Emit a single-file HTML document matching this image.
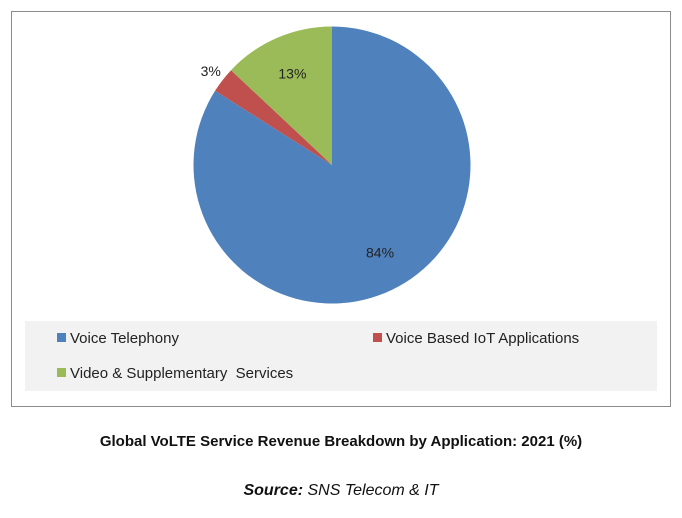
<!DOCTYPE html>
<html><head><meta charset="utf-8"><style>
body{margin:0;background:#fff;width:682px;height:513px;overflow:hidden;font-family:"Liberation Sans",sans-serif}
</style></head><body>
<svg width="682" height="513">
<rect x="11.5" y="11.5" width="659" height="395" fill="#fff" stroke="#8c8c8c"/>
<g id="pie"></g>
<rect x="25" y="321" width="632" height="70" fill="#f2f2f2"/>
<g><rect x="57" y="333" width="9" height="9" fill="#4f81bd"/><text x="70" y="343" font-size="15" fill="#222">Voice Telephony</text></g>
<g><rect x="373" y="333" width="9" height="9" fill="#c0504d"/><text x="386" y="343" font-size="15" fill="#222">Voice Based IoT Applications</text></g>
<g><rect x="57" y="368" width="9" height="9" fill="#9bbb59"/><text x="70" y="378" font-size="15" fill="#222" xml:space="preserve">Video &amp; Supplementary  Services</text></g>
<text x="341" y="446" text-anchor="middle" font-size="15" font-weight="bold" fill="#111">Global VoLTE Service Revenue Breakdown by Application: 2021 (%)</text>
<text x="341" y="495" text-anchor="middle" font-size="16" font-style="italic" fill="#111"><tspan font-weight="bold">Source:</tspan> SNS Telecom &amp; IT</text>
</svg>
<script>
const categories=["Voice Telephony","Voice Based IoT Applications","Video & Supplementary Services"];
const values=[84,3,13];
const labels=["84%","3%","13%"];
const colors=["#4f81bd","#c0504d","#9bbb59"];
const cx=332,cy=165,r=138.5;
const g=document.getElementById('pie');
const ns="http://www.w3.org/2000/svg";
const total=values.reduce((a,b)=>a+b,0);
let a0=0;
values.forEach((v,i)=>{
  const a1=a0+v/total*2*Math.PI;
  const p=a=>[cx+r*Math.sin(a),cy-r*Math.cos(a)];
  const s=p(a0),e=p(a1);
  const path=document.createElementNS(ns,'path');
  path.setAttribute('d',`M${cx},${cy}L${s[0]},${s[1]}A${r},${r} 0 ${a1-a0>Math.PI?1:0} 1 ${e[0]},${e[1]}Z`);
  path.setAttribute('fill',colors[i]);
  
  
  g.appendChild(path);
  const m=(a0+a1)/2;
  const lr=v<5?r+15:r*0.72;
  const t=document.createElementNS(ns,'text');
  t.setAttribute('x',cx+lr*Math.sin(m));
  t.setAttribute('y',cy-lr*Math.cos(m)+5);
  t.setAttribute('text-anchor','middle');
  t.setAttribute('font-size','14');
  t.setAttribute('fill','#222');
  
  
  t.textContent=labels[i];
  g.appendChild(t);
  a0=a1;
});
</script>
</body></html>
